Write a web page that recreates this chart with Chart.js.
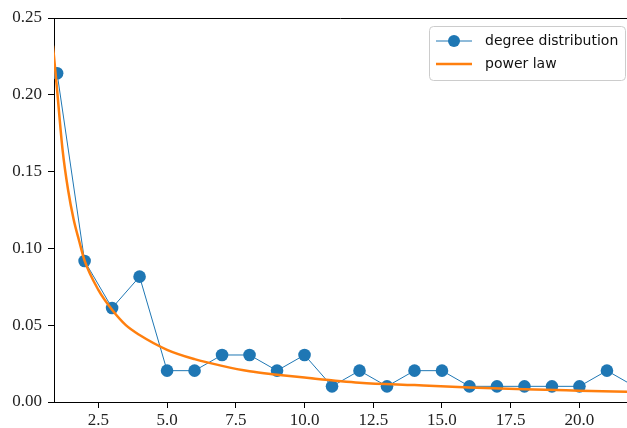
<!DOCTYPE html>
<html>
<head>
<meta charset="utf-8">
<script src="https://cdn.jsdelivr.net/npm/chart.js@4.4.0/dist/chart.umd.min.js"></script>
<style>
  body { margin: 0; background: #fff; }
  canvas { display: block; }
</style>
</head>
<body>
<canvas id="chart" width="627" height="428"></canvas>
<script>
// degree distribution (fraction of nodes per degree)
const degrees = [1, 2, 3, 4, 5, 6, 7, 8, 9, 10, 11, 12, 13, 14, 15, 16, 17, 18, 19, 20, 21, 22];
const degreeFreq = [0.214, 0.0918, 0.0612, 0.0816, 0.0204, 0.0204, 0.0306, 0.0306, 0.0204, 0.0306, 0.0102,
  0.0204, 0.0102, 0.0204, 0.0204, 0.0102, 0.0102, 0.0102, 0.0102, 0.0102, 0.0204, 0.0102];

// power law curve at sample points
const fitX = [0.85, 1, 1.2, 1.4, 1.6, 1.8, 2, 2.5, 3, 3.5, 4, 5, 6, 7, 8, 9, 10, 12, 14, 16, 18, 20, 21.9];
const fitY = [0.232, 0.203, 0.164, 0.138, 0.119, 0.105, 0.092, 0.073, 0.060, 0.050, 0.0436, 0.034, 0.0279,
  0.0235, 0.020, 0.0178, 0.0159, 0.0126, 0.011, 0.0095, 0.0083, 0.0074, 0.0066];

const xTicks = [2.5, 5.0, 7.5, 10.0, 12.5, 15.0, 17.5, 20.0];
const yTicks = [0, 0.05, 0.10, 0.15, 0.20, 0.25];

const blue = '#1f77b4';
const orange = '#ff7f0e';
const tickFont = { family: '"Liberation Serif", serif', size: 17 };

// top spine + legend box drawn like matplotlib
const frame = {
  id: 'frame',
  afterDraw(chart) {
    const { ctx, chartArea: a } = chart;
    ctx.save();
    ctx.strokeStyle = '#000';
    ctx.lineWidth = 1;
    ctx.beginPath();
    ctx.moveTo(a.left, a.top + 0.5);
    ctx.lineTo(a.right, a.top + 0.5);
    ctx.stroke();

    // legend
    const bx = 429.5, by = 26.5, bw = 196, bh = 54;
    ctx.fillStyle = 'rgba(255,255,255,0.8)';
    ctx.strokeStyle = '#cccccc';
    ctx.beginPath();
    ctx.roundRect(bx, by, bw, bh, 4);
    ctx.fill();
    ctx.stroke();

    ctx.lineWidth = 1;
    ctx.strokeStyle = blue;
    ctx.beginPath();
    ctx.moveTo(436, 41);
    ctx.lineTo(472, 41);
    ctx.stroke();
    ctx.fillStyle = blue;
    ctx.beginPath();
    ctx.arc(454, 41, 6, 0, Math.PI * 2);
    ctx.fill();

    ctx.lineWidth = 2.5;
    ctx.strokeStyle = orange;
    ctx.beginPath();
    ctx.moveTo(436, 64);
    ctx.lineTo(472, 64);
    ctx.stroke();

    ctx.fillStyle = '#111';
    ctx.font = '14px "DejaVu Sans", sans-serif';
    ctx.textBaseline = 'middle';
    ctx.fillText('degree distribution', 485, 41);
    ctx.fillText('power law', 485, 64);
    ctx.restore();
  }
};

new Chart(document.getElementById('chart'), {
  type: 'line',
  data: {
    datasets: [
      {
        label: 'degree distribution',
        data: degrees.map((d, i) => ({ x: d, y: degreeFreq[i] })),
        borderColor: blue,
        backgroundColor: blue,
        borderWidth: 1,
        pointRadius: 6.3,
        pointBorderWidth: 0,
        pointBackgroundColor: blue,
        clip: 0,
        order: 1
      },
      {
        label: 'power law',
        data: fitX.map((x, i) => ({ x: x, y: fitY[i] })),
        borderColor: orange,
        borderWidth: 2.5,
        pointRadius: 0,
        cubicInterpolationMode: 'monotone',
        clip: 0,
        order: 0
      }
    ]
  },
  options: {
    responsive: false,
    animation: false,
    devicePixelRatio: 1,
    layout: { autoPadding: false, padding: { top: 18, right: 0, left: 0, bottom: 0 } },
    plugins: { legend: { display: false }, tooltip: { enabled: false } },
    scales: {
      x: {
        type: 'linear',
        min: 0.887,
        max: 21.73,
        afterBuildTicks(scale) { scale.ticks = xTicks.map(v => ({ value: v })); },
        afterFit(scale) {
          scale.height = 26;
          scale.paddingLeft = 0;
          scale.paddingRight = 0;
        },
        ticks: {
          font: tickFont,
          color: '#222',
          padding: 2,
          maxRotation: 0,
          callback: v => v.toFixed(1)
        },
        grid: { display: true, drawOnChartArea: false, tickLength: 6, color: '#000' },
        border: { display: true, color: '#000', width: 1 }
      },
      y: {
        min: 0,
        max: 0.25,
        afterBuildTicks(scale) { scale.ticks = yTicks.map(v => ({ value: v })); },
        afterFit(scale) {
          scale.width = 54;
          scale.paddingTop = 0;
          scale.paddingBottom = 0;
        },
        ticks: {
          font: tickFont,
          color: '#222',
          padding: 6,
          callback: v => v.toFixed(2)
        },
        grid: { display: true, drawOnChartArea: false, tickLength: 6, color: '#000' },
        border: { display: true, color: '#000', width: 1 }
      }
    }
  },
  plugins: [frame]
});
</script>
</body>
</html>
